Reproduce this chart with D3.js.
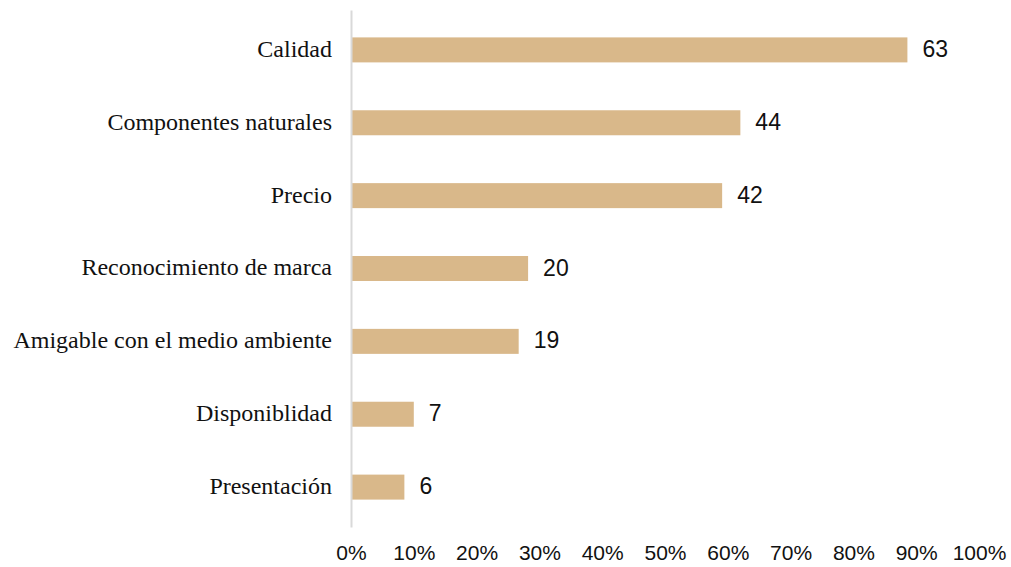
<!DOCTYPE html>
<html lang="es">
<head>
<meta charset="UTF-8">
<title>Atributos</title>
<script src="https://d3js.org/d3.v7.min.js"></script>
<style>
  body { margin: 0; background: #fff; }
  .cat text { font-family: "Liberation Serif", "Times New Roman", serif; font-size: 24px; fill: #111; }
  .xax text { font-family: "Liberation Sans", Arial, sans-serif; font-size: 21px; fill: #111; }
  .val { font-family: "Liberation Sans", Arial, sans-serif; font-size: 23px; fill: #111; }
</style>
</head>
<body>
<div id="chart"></div>
<script>
const categories = ["Calidad", "Componentes naturales", "Precio", "Reconocimiento de marca",
                    "Amigable con el medio ambiente", "Disponiblidad", "Presentación"];
const counts = [63, 44, 42, 20, 19, 7, 6];
// percentage of respondents
const percents = [88.6, 62.0, 59.1, 28.2, 26.7, 10.0, 8.5];
const xTicks = [0, 10, 20, 30, 40, 50, 60, 70, 80, 90, 100];

const width = 1011, height = 567;
const svg = d3.select("#chart").append("svg")
    .attr("width", width)
    .attr("height", height);

const x = d3.scaleLinear().domain([0, 100]).range([351, 979]);
const y = d3.scaleBand().domain(categories).range([10, 527])
    .paddingInner(0.657).paddingOuter(0.376);

// bars
svg.append("g").selectAll("rect")
    .data(categories)
    .join("rect")
    .attr("x", x(0))
    .attr("y", d => y(d))
    .attr("width", (d, i) => x(percents[i]) - x(0))
    .attr("height", y.bandwidth())
    .attr("fill", "#d9b88a");

// category axis
const yAxis = svg.append("g")
    .attr("class", "cat")
    .attr("transform", `translate(${x(0)},0)`)
    .call(d3.axisLeft(y).tickSize(0).tickPadding(19));
yAxis.select(".domain").attr("stroke", "#d9d9d9").attr("stroke-width", 2);
yAxis.selectAll("text").attr("dy", "0.29em");

// value labels
svg.append("g").selectAll("text")
    .data(categories)
    .join("text")
    .attr("class", "val")
    .attr("x", (d, i) => x(percents[i]) + 15)
    .attr("y", d => y(d) + y.bandwidth() / 2 + 7)
    .text((d, i) => counts[i]);

// percent axis
const xAxis = svg.append("g")
    .attr("class", "xax")
    .attr("transform", "translate(0,560)")
    .call(d3.axisBottom(x).tickValues(xTicks).tickFormat(d => d + "%").tickSize(0));
xAxis.select(".domain").remove();
xAxis.selectAll("text").attr("y", 0).attr("dy", null);
</script>
</body>
</html>
